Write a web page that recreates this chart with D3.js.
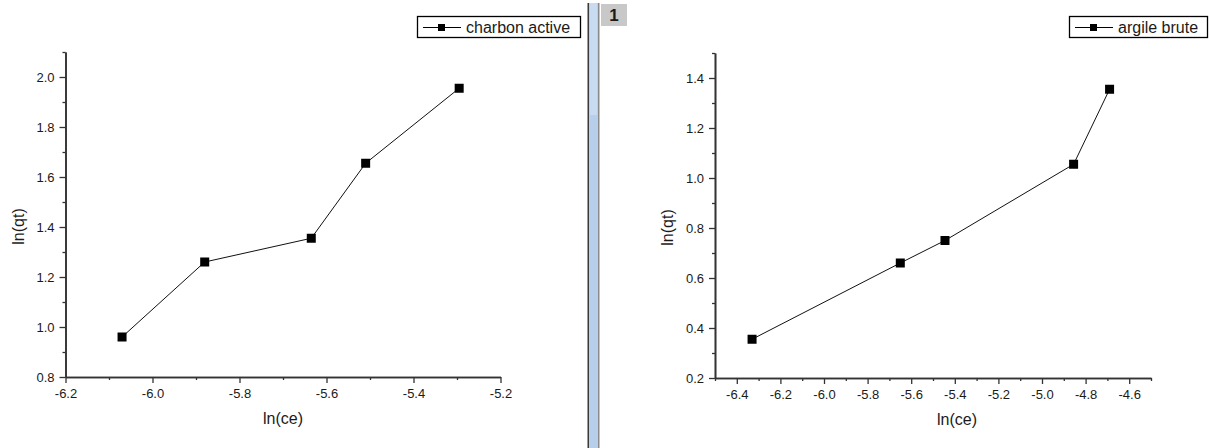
<!DOCTYPE html>
<html>
<head>
<meta charset="utf-8">
<script src="https://cdn.jsdelivr.net/npm/d3@7"></script>
<style>
  body { margin: 0; background: #fff; }
  text { font-family: "Liberation Sans", Arial, sans-serif; fill: #1a1a1a; }
</style>
</head>
<body>
<script>
// data
var ceCharbon = [-6.07, -5.88, -5.635, -5.51, -5.295];
var qtCharbon = [0.96, 1.26, 1.355, 1.655, 1.955];
var ceArgile = [-6.33, -5.65, -5.445, -4.855, -4.69];
var qtArgile = [0.355, 0.66, 0.75, 1.055, 1.355];

// tick values
var xTicksCharbon = [-6.2, -6.0, -5.8, -5.6, -5.4, -5.2];
var yTicksCharbon = [0.8, 1.0, 1.2, 1.4, 1.6, 1.8, 2.0];
var xTicksArgile = [-6.4, -6.2, -6.0, -5.8, -5.6, -5.4, -5.2, -5.0, -4.8, -4.6];
var yTicksArgile = [0.2, 0.4, 0.6, 0.8, 1.0, 1.2, 1.4];

var svg = d3.select("body").append("svg")
    .attr("width", 1209)
    .attr("height", 448);

// window splitter between the two graphs
svg.append("rect").attr("x", 587.5).attr("y", 3).attr("width", 1.5).attr("height", 445).attr("fill", "#3a3a3a");
svg.append("rect").attr("x", 589).attr("y", 3).attr("width", 9).attr("height", 445).attr("fill", "#b7cfea");
svg.append("rect").attr("x", 590).attr("y", 3).attr("width", 7).attr("height", 112).attr("fill", "#c9dbf0");
svg.append("rect").attr("x", 598).attr("y", 3).attr("width", 1.5).attr("height", 445).attr("fill", "#8a8a8a");
svg.append("rect").attr("x", 601).attr("y", 4).attr("width", 26).attr("height", 22).attr("fill", "#c8c8c8");
svg.append("text").attr("x", 614).attr("y", 21)
    .attr("text-anchor", "middle")
    .style("font-size", "17px").style("font-weight", "bold")
    .text("1");

function drawPanel(p) {
    var x = d3.scaleLinear().domain(p.xDomain).range(p.xRange);
    var y = d3.scaleLinear().domain(p.yDomain).range(p.yRange);
    var data = p.ce.map(function(d, i) { return {ce: d, qt: p.qt[i]}; });

    var g = svg.append("g");
    var x0 = p.xRange[0], yb = p.yRange[0];

    // minor ticks
    var xMinor = p.xTicks.map(function(d) { return +(d + 0.1).toFixed(2); })
        .concat([+(p.xTicks[0] - 0.1).toFixed(2)])
        .filter(function(d) { return d >= p.xDomain[0] - 1e-9 && d <= p.xDomain[1] + 1e-9; });
    var yMinor = p.yTicks.map(function(d) { return +(d + 0.1).toFixed(2); })
        .filter(function(d) { return d <= p.yDomain[1] + 1e-9; });

    g.append("g")
        .attr("transform", "translate(0," + yb + ")")
        .call(d3.axisBottom(x).tickValues(xMinor).tickSize(3).tickSizeOuter(0).tickFormat(""));
    g.append("g")
        .attr("transform", "translate(" + x0 + ",0)")
        .call(d3.axisLeft(y).tickValues(yMinor).tickSize(3).tickSizeOuter(0).tickFormat(""));

    // Add the X Axis
    g.append("g")
        .attr("class", "axis")
        .attr("transform", "translate(0," + yb + ")")
        .call(d3.axisBottom(x).tickValues(p.xTicks).tickSize(6).tickPadding(6).tickSizeOuter(0)
            .tickFormat(d3.format(".1f")));

    // Add the Y Axis
    g.append("g")
        .attr("class", "axis")
        .attr("transform", "translate(" + x0 + ",0)")
        .call(d3.axisLeft(y).tickValues(p.yTicks).tickSize(6).tickPadding(5).tickSizeOuter(0)
            .tickFormat(d3.format(".1f")));

    g.selectAll(".domain").attr("stroke", "#333").attr("stroke-width", 1.6);
    g.selectAll(".tick line").attr("stroke", "#333").attr("stroke-width", 1.3);
    g.selectAll(".axis text")
        .style("font-family", "'Liberation Sans', Arial, sans-serif")
        .style("font-size", "13px")
        .attr("fill", "#1a1a1a")
        .text(function(d) { return d3.format(".1f")(d).replace("−", "-"); });

    // line
    var line = d3.line()
        .x(function(d) { return x(d.ce); })
        .y(function(d) { return y(d.qt); });
    g.append("path")
        .datum(data)
        .attr("fill", "none")
        .attr("stroke", "#111")
        .attr("stroke-width", 1)
        .attr("d", line);

    // markers
    g.selectAll(".pt")
        .data(data)
        .enter().append("rect")
        .attr("x", function(d) { return x(d.ce) - 4.5; })
        .attr("y", function(d) { return y(d.qt) - 4.5; })
        .attr("width", 9)
        .attr("height", 9)
        .attr("fill", "#000");

    // axis titles
    g.append("text")
        .attr("x", (p.xRange[0] + p.xRange[1]) / 2 + p.xTitleShift)
        .attr("y", yb + 47)
        .attr("text-anchor", "middle")
        .style("font-size", "16px")
        .text("ln(ce)");
    g.append("text")
        .attr("transform", "translate(" + (x0 - 42) + "," + ((p.yRange[0] + p.yRange[1]) / 2 + 12) + ") rotate(-90)")
        .attr("text-anchor", "middle")
        .style("font-size", "16px")
        .text("ln(qt)");

    // legend
    var lg = svg.append("g").attr("transform", "translate(" + p.legend[0] + "," + p.legend[1] + ")");
    lg.append("rect")
        .attr("x", 0.5).attr("y", 0.5)
        .attr("width", p.legend[2]).attr("height", 21)
        .attr("fill", "#fff").attr("stroke", "#000").attr("stroke-width", 1.3);
    lg.append("line")
        .attr("x1", 6).attr("x2", 44).attr("y1", 11.5).attr("y2", 11.5)
        .attr("stroke", "#000").attr("stroke-width", 1);
    lg.append("rect")
        .attr("x", 21).attr("y", 8).attr("width", 7).attr("height", 7).attr("fill", "#000");
    lg.append("text")
        .attr("x", 49).attr("y", 17)
        .style("font-size", "16px")
        .text(p.name);
}

drawPanel({
    name: "charbon active",
    ce: ceCharbon, qt: qtCharbon,
    xTicks: xTicksCharbon, yTicks: yTicksCharbon,
    xDomain: [-6.2, -5.2], yDomain: [0.8, 2.1],
    xRange: [65.5, 500.5], yRange: [377, 52],
    xTitleShift: 0,
    legend: [417, 16, 163]
});

drawPanel({
    name: "argile brute",
    ce: ceArgile, qt: qtArgile,
    xTicks: xTicksArgile, yTicks: yTicksArgile,
    xDomain: [-6.5, -4.5], yDomain: [0.2, 1.5],
    xRange: [715, 1151], yRange: [378, 53],
    xTitleShift: 24,
    legend: [1069, 16, 138]
});
</script>
</body>
</html>
